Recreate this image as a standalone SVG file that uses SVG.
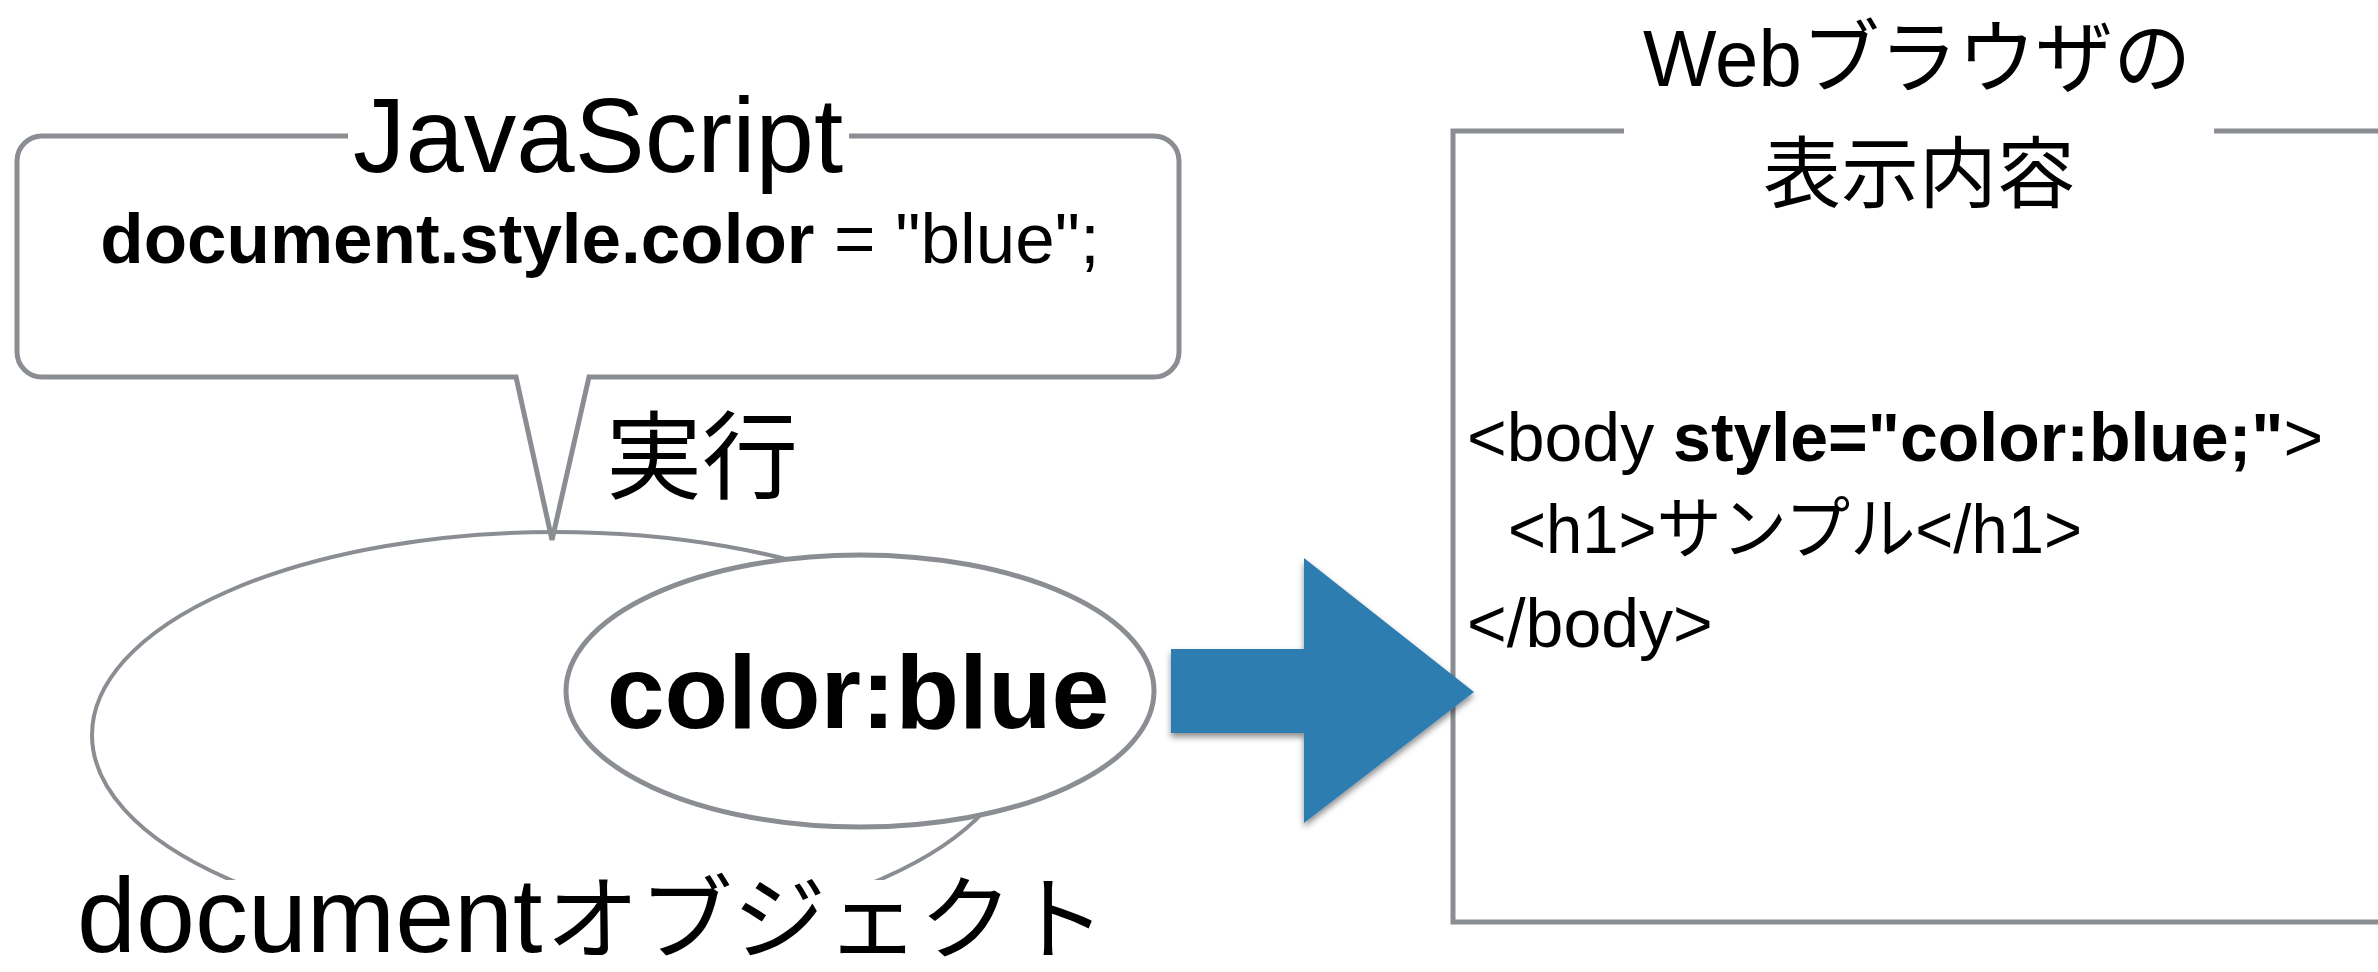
<svg xmlns="http://www.w3.org/2000/svg" width="2378" height="972" viewBox="0 0 2378 972">
  <style>
    .line { fill: none; stroke: #8a8d91; stroke-width: 5; }
    .filled { fill: #fff; }
    .txt { font-family: 'Liberation Sans', 'Noto Sans CJK JP', sans-serif; fill: #000; }
    .cjk { font-family: 'Noto Sans CJK JP', sans-serif; fill: #000; }
    .b { font-weight: bold; }
  </style>
  <defs>
    <clipPath id="docClip">
      <rect x="0" y="0" width="1300" height="880"/>
    </clipPath>
    <filter id="shadow" x="-10%" y="-10%" width="130%" height="130%">
      <feDropShadow dx="0" dy="4" stdDeviation="3" flood-color="#000" flood-opacity="0.45"/>
    </filter>
  </defs>
  <rect width="2378" height="972" fill="#fff"/>

  <!-- document object: large ellipse, cut off above its caption -->
  <g id="doc-object">
    <ellipse cx="555" cy="735" rx="463" ry="203" class="line" style="stroke-width:4" clip-path="url(#docClip)"/>
    <text class="txt" x="77" y="952" font-size="106">document<tspan class="cjk" x="546" font-size="92" textLength="560" lengthAdjust="spacingAndGlyphs">オブジェクト</tspan></text>
  </g>

  <!-- style property held by the document object -->
  <g id="color-prop">
    <ellipse cx="860" cy="691" rx="294" ry="136" class="line filled"/>
    <text class="txt b" x="858" y="728" font-size="104" text-anchor="middle">color:blue</text>
  </g>

  <!-- JavaScript speech bubble pointing at the document object -->
  <g id="callout-js">
    <path class="line" d="M 849 136 H 1154 A 25 25 0 0 1 1179 161 V 352 A 25 25 0 0 1 1154 377 H 589 L 552 540 L 516 377 H 42 A 25 25 0 0 1 17 352 V 161 A 25 25 0 0 1 42 136 H 348"/>
    <text class="txt" x="598" y="172" font-size="105" text-anchor="middle">JavaScript</text>
    <text class="txt" x="600" y="263" font-size="71" text-anchor="middle"><tspan class="b">document.style.color</tspan> = "blue";</text>
  </g>

  <g id="label-exec">
    <text class="cjk" x="606" y="491" font-size="96">実行</text>
  </g>

  <!-- browser output panel, runs off the right edge -->
  <g id="browser-view">
    <path class="line" d="M 1624 131 H 1453 V 922 H 2390"/>
    <path class="line" d="M 2214 131 H 2390"/>
    <text class="txt" x="1917" y="86" font-size="80" text-anchor="middle" textLength="548" lengthAdjust="spacingAndGlyphs">Webブラウザの</text>
    <text class="cjk" x="1919" y="202" font-size="78" text-anchor="middle">表示内容</text>
    <text class="txt" x="1467" y="461" font-size="68">&lt;body <tspan class="b">style="color:blue;"</tspan>&gt;</text>
    <text class="txt" x="1508" y="553" font-size="68" textLength="574" lengthAdjust="spacingAndGlyphs">&lt;h1&gt;サンプル&lt;/h1&gt;</text>
    <text class="txt" x="1467" y="647" font-size="68">&lt;/body&gt;</text>
  </g>

  <!-- flow arrow from the object to the rendered result -->
  <g id="connectors">
    <polygon points="1171,649 1304,649 1304,558 1474,692 1304,823 1304,733 1171,733" fill="#2f7db0" filter="url(#shadow)"/>
  </g>
</svg>
